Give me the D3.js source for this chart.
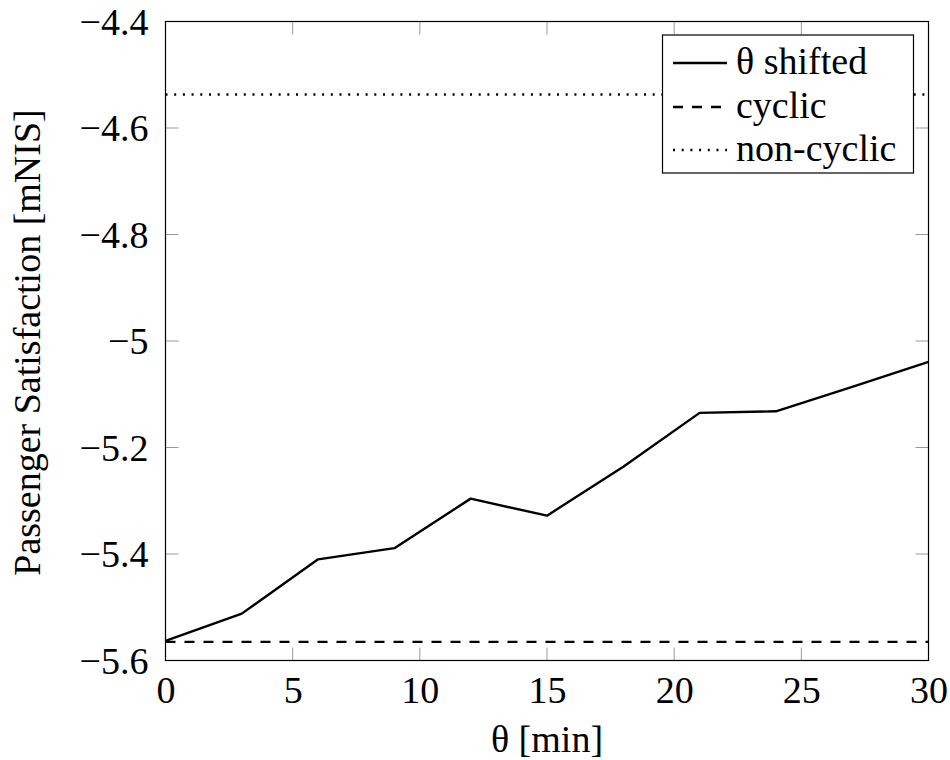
<!DOCTYPE html>
<html>
<head>
<meta charset="utf-8">
<script src="https://cdn.jsdelivr.net/npm/d3@7"></script>
<style>
  html, body { margin: 0; padding: 0; background: #fff; }
  svg { display: block; }
</style>
</head>
<body>
<svg id="chart" width="950" height="760"></svg>
<script>
// ---- data ----
const theta = [0, 3, 6, 9, 12, 15, 18, 21, 24, 27, 30];
const shifted = [-5.563, -5.512, -5.410, -5.389, -5.296, -5.328, -5.236, -5.135, -5.132, -5.086, -5.039];
const cyclicValue = -5.565;
const nonCyclicValue = -4.537;
const xTickValues = [0, 5, 10, 15, 20, 25, 30];
const xTickLabels = ["0", "5", "10", "15", "20", "25", "30"];
const yTickValues = [-5.6, -5.4, -5.2, -5.0, -4.8, -4.6, -4.4];
const yTickLabels = ["\u22125.6", "\u22125.4", "\u22125.2", "\u22125", "\u22124.8", "\u22124.6", "\u22124.4"];
const seriesNames = ["\u03b8 shifted", "cyclic", "non-cyclic"];
const xLabel = "\u03b8 [min]";
const yLabel = "Passenger Satisfaction [mNIS]";

// ---- layout ----
const pLeft = 165.5, pRight = 928.5, pTop = 21.5, pBottom = 660.5;
const fs = 38;
const FONT = '"Liberation Serif", "Times New Roman", serif';

const svg = d3.select("#chart").style("font-family", FONT);
const x = d3.scaleLinear().domain([0, 30]).range([pLeft, pRight]);
const y = d3.scaleLinear().domain([-5.6, -4.4]).range([pBottom, pTop]);

const tickLen = 13;
const tickColor = "#999";
const lw = 2.4;

const xAxisB = d3.axisBottom(x).tickValues(xTickValues).tickSize(0).tickPadding(0)
  .tickFormat((d, i) => xTickLabels[i]);
const yAxisL = d3.axisLeft(y).tickValues(yTickValues).tickSize(0).tickPadding(0)
  .tickFormat((d, i) => yTickLabels[i]);

// tick marks on all four sides (inside)
const g = svg.append("g");
g.append("g").selectAll("line").data(xTickValues).join("line")
  .attr("x1", d => x(d)).attr("x2", d => x(d))
  .attr("y1", pBottom).attr("y2", pBottom - tickLen)
  .attr("stroke", tickColor).attr("stroke-width", 1);
g.append("g").selectAll("line").data(xTickValues).join("line")
  .attr("x1", d => x(d)).attr("x2", d => x(d))
  .attr("y1", pTop).attr("y2", pTop + tickLen)
  .attr("stroke", tickColor).attr("stroke-width", 1);
g.append("g").selectAll("line").data(yTickValues).join("line")
  .attr("x1", pLeft).attr("x2", pLeft + tickLen)
  .attr("y1", d => y(d)).attr("y2", d => y(d))
  .attr("stroke", tickColor).attr("stroke-width", 1);
g.append("g").selectAll("line").data(yTickValues).join("line")
  .attr("x1", pRight).attr("x2", pRight - tickLen)
  .attr("y1", d => y(d)).attr("y2", d => y(d))
  .attr("stroke", tickColor).attr("stroke-width", 1);

// lines
const line = d3.line().x((d, i) => x(theta[i])).y(d => y(d));

svg.append("line")
  .attr("x1", x(0)).attr("x2", x(30))
  .attr("y1", y(nonCyclicValue)).attr("y2", y(nonCyclicValue))
  .attr("stroke", "#000").attr("stroke-width", lw)
  .attr("stroke-dasharray", "2,6.7");

svg.append("line")
  .attr("x1", x(0)).attr("x2", x(30))
  .attr("y1", y(cyclicValue)).attr("y2", y(cyclicValue))
  .attr("stroke", "#000").attr("stroke-width", lw)
  .attr("stroke-dasharray", "10,9");

svg.append("path")
  .datum(shifted)
  .attr("d", line)
  .attr("fill", "none")
  .attr("stroke", "#000").attr("stroke-width", lw)
  .attr("stroke-linejoin", "round");

// frame
svg.append("rect")
  .attr("x", pLeft).attr("y", pTop)
  .attr("width", pRight - pLeft).attr("height", pBottom - pTop)
  .attr("fill", "none").attr("stroke", "#000").attr("stroke-width", 1.2);

// tick labels
const xa = svg.append("g").attr("transform", `translate(0,${pBottom})`).call(xAxisB);
xa.attr("font-family", null).attr("font-size", null);
xa.select(".domain").remove();
xa.selectAll("text").attr("dy", null).attr("y", 42)
  .style("font-family", FONT).style("font-size", fs + "px").attr("fill", "#000");

const ya = svg.append("g").attr("transform", `translate(${pLeft},0)`).call(yAxisL);
ya.attr("font-family", null).attr("font-size", null);
ya.select(".domain").remove();
ya.selectAll("text").attr("x", -17).attr("dy", "0.33em")
  .style("font-family", FONT).style("font-size", fs + "px").attr("fill", "#000");

// axis labels
svg.append("text")
  .attr("x", (pLeft + pRight) / 2).attr("y", 752)
  .attr("text-anchor", "middle")
  .style("font-family", FONT).style("font-size", fs + "px")
  .text(xLabel);

svg.append("text")
  .attr("transform", `translate(40,342.5) rotate(-90)`)
  .attr("text-anchor", "middle")
  .style("font-family", FONT).style("font-size", fs + "px")
  .text(yLabel);

// legend
const lg = svg.append("g");
lg.append("rect")
  .attr("x", 662.5).attr("y", 35).attr("width", 251).attr("height", 138)
  .attr("fill", "#fff").attr("stroke", "#000").attr("stroke-width", 1.2);
const dashes = [null, "10,9", "2,6.7"];
const rowY = [63, 107, 150];
seriesNames.forEach((name, i) => {
  lg.append("line")
    .attr("x1", 673).attr("x2", 727)
    .attr("y1", rowY[i]).attr("y2", rowY[i])
    .attr("stroke", "#000").attr("stroke-width", lw)
    .attr("stroke-dasharray", dashes[i]);
  lg.append("text")
    .attr("x", 736).attr("y", rowY[i]).attr("dy", "0.3em")
    .style("font-family", FONT).style("font-size", fs + "px")
    .text(name);
});
</script>
</body>
</html>
